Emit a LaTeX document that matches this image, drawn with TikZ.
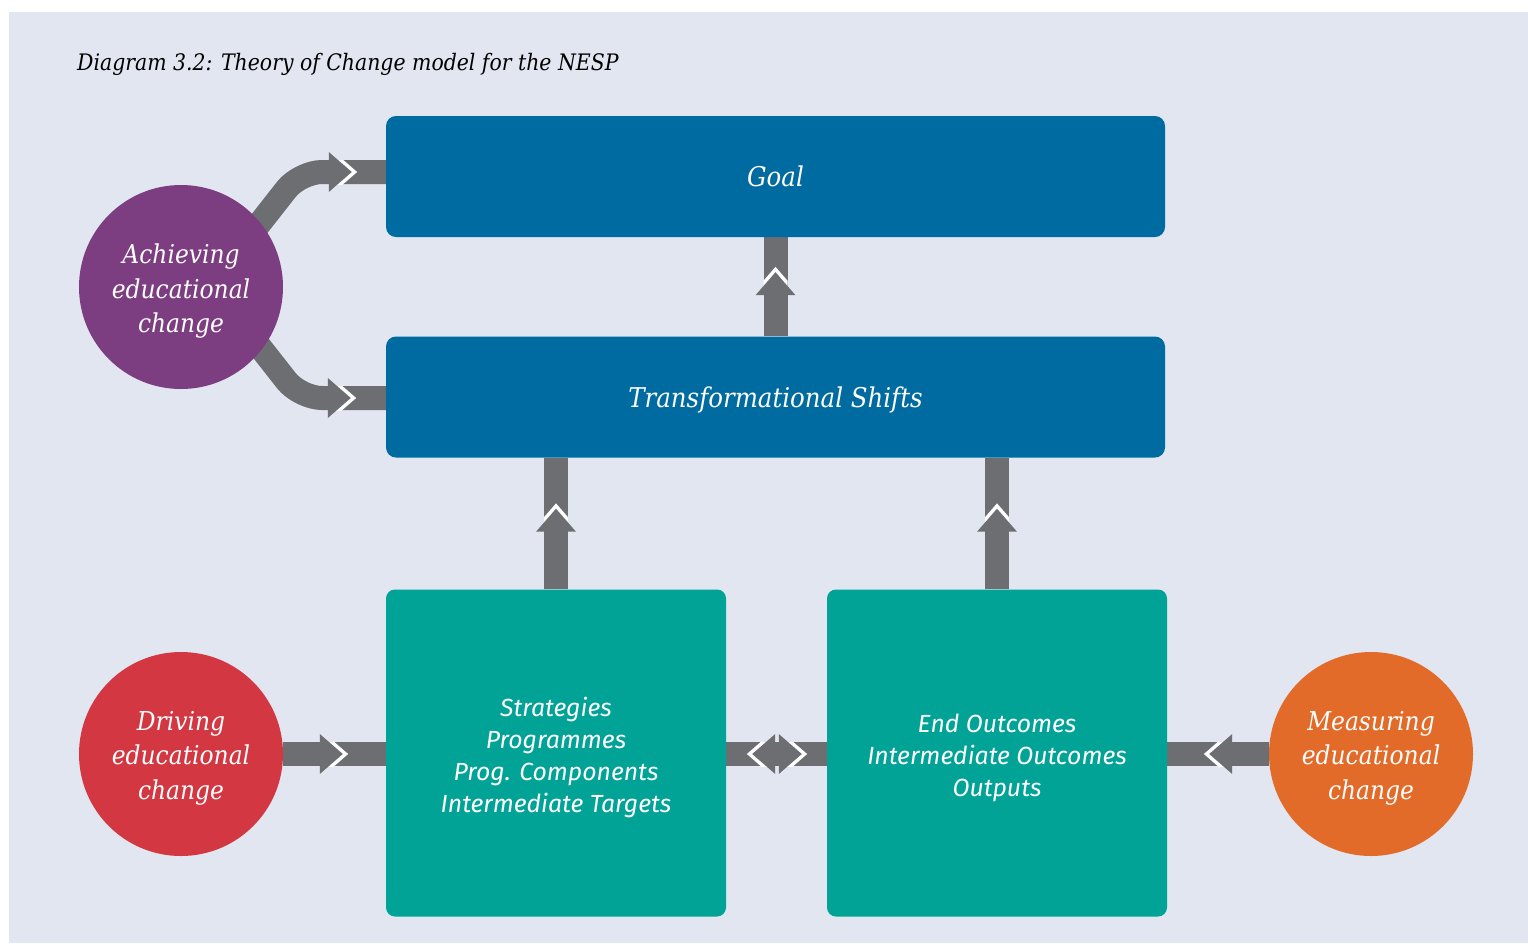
\documentclass[tikz,border=0pt]{standalone}
\usepackage{fontspec}
\newfontfamily\slab{DejaVu Serif Condensed}
\newfontfamily\hsans{Fira Sans}
\usetikzlibrary{decorations.markings}
\definecolor{bgpanel}{RGB}{225,230,240}
\definecolor{boxblue}{RGB}{0,107,160}
\definecolor{boxteal}{RGB}{0,163,150}
\definecolor{arrowgray}{RGB}{109,110,113}
\definecolor{cpurple}{RGB}{124,62,128}
\definecolor{cred}{RGB}{211,56,66}
\definecolor{corange}{RGB}{227,107,42}
\pgfdeclarelayer{back}
\pgfdeclarelayer{bars}
\pgfsetlayers{back,bars,main}
\newcommand\tocfwdhead{%
  \begin{scope}
    \clip (-40pt,-12pt) rectangle (40pt,12pt);
    \draw[white,line width=7pt,miter limit=20] (-23pt,20pt) -- (0pt,0pt) -- (-23pt,-20pt);
  \end{scope}
  \fill[arrowgray] (-23pt,20pt) -- (0pt,0pt) -- (-23pt,-20pt) -- cycle;}
\newcommand\tocbackhead{%
  \begin{scope}
    \clip (-40pt,-12pt) rectangle (40pt,12pt);
    \draw[white,line width=7pt,miter limit=20] (23pt,20pt) -- (0pt,0pt) -- (23pt,-20pt);
  \end{scope}
  \fill[arrowgray] (23pt,20pt) -- (0pt,0pt) -- (23pt,-20pt) -- cycle;}
\tikzset{
  bar/.style={draw=arrowgray, line width=24pt, line cap=butt},
  headfwd/.style={postaction={decorate,decoration={markings,mark=at position #1 with {\tocfwdhead}}}},
  headback/.style={postaction={decorate,decoration={markings,mark=at position #1 with {\tocbackhead}}}},
  bluebox/.style={fill=boxblue, rounded corners=10pt, minimum width=779pt, minimum height=121pt,
    text=white, font=\fontsize{27.2}{34}\selectfont\slab\itshape, inner sep=0pt, text depth=0pt},
  tealbox/.style={fill=boxteal, rounded corners=9pt, minimum width=340pt, minimum height=327pt, inner sep=0pt},
  tealtext/.style={text=white, font=\fontsize{24.8}{32}\selectfont\hsans\itshape, align=center, inner sep=0pt},
  blob/.style={circle, minimum size=204pt, inner sep=0pt},
  blobtext/.style={text=white, align=center, inner sep=0pt,
    font=\fontsize{26}{34.5}\selectfont\slab\itshape},
}
\begin{document}
\begin{tikzpicture}[x=1pt,y=-1pt]
\useasboundingbox (0,0) rectangle (1528,943);
\begin{pgfonlayer}{back}
  \fill[white] (0,0) rectangle (1528,943);
  \fill[bgpanel] (9,12) rectangle (1528,943);
\end{pgfonlayer}
\node[anchor=base west, inner sep=0pt, font=\fontsize{22.7}{28}\selectfont\slab\itshape] (title) at (77,70)
  {Diagram 3.2: Theory of Change model for the NESP};

\node[bluebox] (goal) at (775.5,176.5) {Goal};
\node[bluebox] (trans) at (775.5,397) {Transformational Shifts};
\node[tealbox] (strat) at (556,753) {};
\node[tealtext] (strattext) at ([yshift=-4pt]strat.center) {Strategies\\Programmes\\Prog. Components\\Intermediate Targets};
\node[tealbox] (outc) at (997,753) {};
\node[tealtext] (outctext) at ([yshift=-5pt]outc.center) {End Outcomes\\Intermediate Outcomes\\Outputs};
\node[blob, fill=cpurple] (ach) at (181,287) {};
\node[blobtext] (achtext) at ([yshift=-4.5pt]ach.center) {Achieving\\educational\\change};
\node[blob, fill=cred] (drv) at (181,754) {};
\node[blobtext] (drvtext) at ([yshift=-4pt]drv.center) {Driving\\educational\\change};
\node[blob, fill=corange] (meas) at (1371,754) {};
\node[blobtext] (meastext) at ([yshift=-4pt]meas.center) {Measuring\\educational\\change};

\coordinate (achA) at (238,251);
\coordinate (achbendA) at (300,172);
\coordinate (achB) at (238,319);
\coordinate (achbendB) at (300,398);

\begin{pgfonlayer}{bars}
  \draw[bar, rounded corners=22pt] (achA) -- (achbendA) -- (goal.west |- achbendA);
  \path[headfwd=-34pt] (achbendA) -- (goal.west |- achbendA);
  \draw[bar, rounded corners=22pt] (achB) -- (achbendB) -- (trans.west |- achbendB);
  \path[headfwd=-35pt] (achbendB) -- (trans.west |- achbendB);
  \draw[bar, headfwd=-35pt] (trans.north) -- (goal.south);
  \draw[bar, headfwd=-51pt] (strat.north) -- (strat.north |- trans.south);
  \draw[bar, headfwd=-51pt] (outc.north) -- (outc.north |- trans.south);
  \draw[bar, headfwd=-43pt] (drv.east) -- (strat.west |- drv.east);
  \draw[bar, headfwd=-42pt] (meas.west) -- (outc.east |- meas.west);
  \draw[bar, headback=26pt, headfwd=-25pt] (strat.east |- drv.east) -- (outc.west |- drv.east);
\end{pgfonlayer}
\end{tikzpicture}
\end{document}
